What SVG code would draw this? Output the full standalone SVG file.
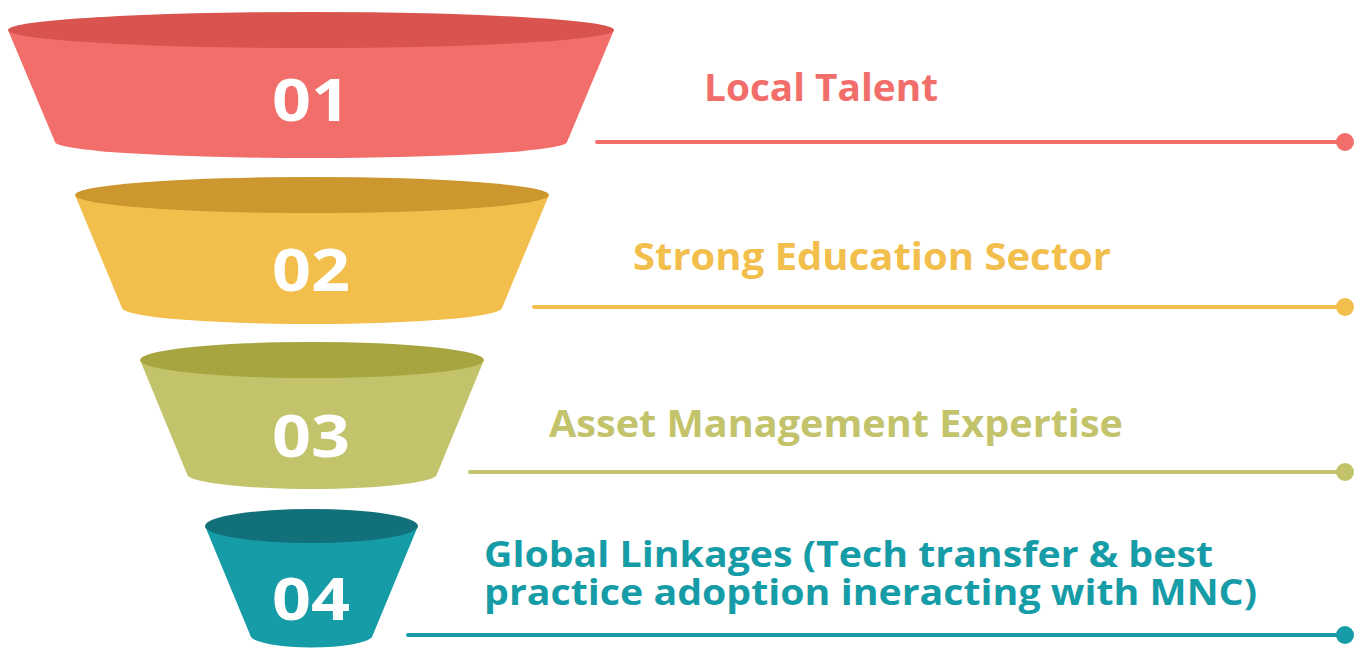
<svg xmlns="http://www.w3.org/2000/svg" width="1363" height="649" viewBox="0 0 1363 649">
  <style>
    .num { font-family: "Open Sans", "Liberation Sans", sans-serif; font-weight: 700; font-size: 59px; fill: #ffffff; text-anchor: middle; }
    .label { font-family: "Open Sans", "Liberation Sans", sans-serif; font-weight: 700; font-size: 37px; }
    .label-sm { font-size: 35px; }
    .line { stroke-width: 4; stroke-linecap: round; fill: none; }
  </style>
  <rect width="1363" height="649" fill="#ffffff"/>

  <!-- funnel tiers -->
  <g id="tier-01">
    <path d="M8,30 L55,142 A256,16 0 0 0 567,142 L614,30 Z" fill="#F26E6A"/>
    <ellipse cx="311" cy="30" rx="303" ry="18" fill="#D9534F"/>
    <text class="num" x="311" y="121" textLength="78" lengthAdjust="spacingAndGlyphs">01</text>
  </g>
  <g id="tier-02">
    <path d="M75,195 L122,308 A190,16 0 0 0 502,308 L549,195 Z" fill="#F2BE4C"/>
    <ellipse cx="312" cy="195" rx="237" ry="18" fill="#CB972E"/>
    <text class="num" x="311" y="291" textLength="78" lengthAdjust="spacingAndGlyphs">02</text>
  </g>
  <g id="tier-03">
    <path d="M140,360 L187,474 A125,15 0 0 0 437,474 L484,360 Z" fill="#C2C36A"/>
    <ellipse cx="312" cy="360" rx="172" ry="18" fill="#A6A53F"/>
    <text class="num" x="311" y="457" textLength="78" lengthAdjust="spacingAndGlyphs">03</text>
  </g>
  <g id="tier-04">
    <path d="M205,526 L251,637 A61,12 0 0 0 372,637 L418,526 Z" fill="#169CA7"/>
    <ellipse cx="311.5" cy="526" rx="106.5" ry="17" fill="#11707A"/>
    <text class="num" x="311" y="620" textLength="78" lengthAdjust="spacingAndGlyphs">04</text>
  </g>

  <!-- leader lines with end dots -->
  <g id="connectors">
    <line class="line" x1="597" y1="142" x2="1345" y2="142" stroke="#F26E6A"/>
    <circle cx="1345" cy="142" r="9" fill="#F26E6A"/>
    <line class="line" x1="534" y1="307" x2="1345" y2="307" stroke="#F2BE4C"/>
    <circle cx="1345" cy="307" r="9" fill="#F2BE4C"/>
    <line class="line" x1="470" y1="472" x2="1345" y2="472" stroke="#C2C36A"/>
    <circle cx="1345" cy="472" r="9" fill="#C2C36A"/>
    <line class="line" x1="408" y1="635" x2="1345" y2="635" stroke="#169CA7"/>
    <circle cx="1345" cy="635" r="9" fill="#169CA7"/>
  </g>

  <!-- labels -->
  <g id="label-01">
    <text class="label" x="704" y="101" fill="#F26E6A" textLength="234" lengthAdjust="spacingAndGlyphs">Local Talent</text>
  </g>
  <g id="label-02">
    <text class="label" x="633" y="270" fill="#F2BE4C" textLength="478" lengthAdjust="spacingAndGlyphs">Strong Education Sector</text>
  </g>
  <g id="label-03">
    <text class="label" x="549" y="437" fill="#C2C36A" textLength="574" lengthAdjust="spacingAndGlyphs">Asset Management Expertise</text>
  </g>
  <g id="label-04">
    <!-- two-line label kept as one text block -->
    <text class="label label-sm" fill="#169CA7">
      <tspan x="484" y="567" textLength="729" lengthAdjust="spacingAndGlyphs">Global Linkages (Tech transfer &amp; best</tspan>
      <tspan x="484" y="605" textLength="773" lengthAdjust="spacingAndGlyphs">practice adoption ineracting with MNC)</tspan>
    </text>
  </g>
</svg>
